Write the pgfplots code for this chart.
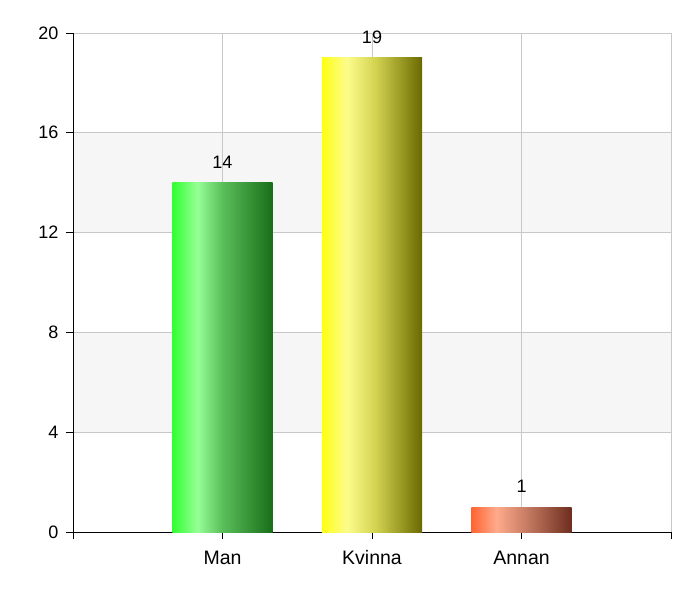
\documentclass[border=0pt]{standalone}
\usepackage{fontspec}
\setmainfont{Liberation Sans}
\usepackage{pgfplots}
\pgfplotsset{compat=1.18}
\definecolor{gridc}{HTML}{C8C8C8}
\definecolor{bandc}{HTML}{F6F6F6}
\pgfdeclarehorizontalshading{greenbar}{100bp}{color(0bp)=(green!80!white); color(25bp)=(rgb,255:red,50;green,255;blue,50); color(37.5bp)=(rgb,255:red,150;green,255;blue,150); color(50bp)=(rgb,255:red,90;green,190;blue,90); color(75bp)=(rgb,255:red,25;green,110;blue,25); color(100bp)=(rgb,255:red,25;green,110;blue,25)}
\pgfdeclarehorizontalshading{yellowbar}{100bp}{color(0bp)=(yellow); color(25bp)=(rgb,255:red,255;green,255;blue,20); color(37.5bp)=(rgb,255:red,252;green,252;blue,140); color(52bp)=(rgb,255:red,210;green,210;blue,80); color(75bp)=(rgb,255:red,105;green,105;blue,0); color(100bp)=(rgb,255:red,105;green,105;blue,0)}
\pgfdeclarehorizontalshading{orangebar}{100bp}{color(0bp)=(orange); color(25bp)=(rgb,255:red,255;green,100;blue,50); color(37.5bp)=(rgb,255:red,255;green,170;blue,140); color(52bp)=(rgb,255:red,200;green,125;blue,100); color(75bp)=(rgb,255:red,110;green,45;blue,30); color(100bp)=(rgb,255:red,110;green,45;blue,30)}
\begin{document}
\begin{tikzpicture}
\begin{axis}[
  name=ax,
  set layers=standard,
  scale only axis,
  width=598pt, height=499pt,
  xmin=0, xmax=4, ymin=0, ymax=20,
  axis lines*=left,
  axis line style={black, line width=0.8pt},
  xtick={0,1,2,3,4},
  xticklabels={,Man,Kvinna,Annan,},
  ytick={0,4,8,12,16,20},
  grid=major,
  grid style={gridc, line width=0.6pt},
  tick align=outside,
  major tick length=7pt,
  tick style={black, line width=0.8pt},
  /pgf/number format/assume math mode=true,
  yticklabel style={font=\fontsize{18}{21}\selectfont, xshift=-4pt},
  xticklabel style={font=\fontsize{19.5}{22}\selectfont, yshift=-8pt, text height=14pt, text depth=0pt},
  clip=false,
]
\addplot[fill=bandc, draw=none, on layer=axis background, forget plot] coordinates {(0,4) (4,4) (4,8) (0,8) (0,4)};
\addplot[fill=bandc, draw=none, on layer=axis background, forget plot] coordinates {(0,12) (4,12) (4,16) (0,16) (0,12)};
\addplot[ybar, bar width=0.67, bar shift=0pt, draw=none, shading=greenbar,
  nodes near coords, every node near coord/.append style={font=\fontsize{18}{21}\selectfont, black, yshift=11pt}] coordinates {(1,14)};
\addplot[ybar, bar width=0.67, bar shift=0pt, draw=none, shading=yellowbar,
  nodes near coords, every node near coord/.append style={font=\fontsize{18}{21}\selectfont, black, yshift=11pt}] coordinates {(2,19)};
\addplot[ybar, bar width=0.67, bar shift=0pt, draw=none, shading=orangebar,
  nodes near coords, every node near coord/.append style={font=\fontsize{18}{21}\selectfont, black, yshift=11pt}] coordinates {(3,1)};
\end{axis}
\path ([shift={(-73pt,-68pt)}]ax.south west) rectangle ([shift={(29pt,33pt)}]ax.north east);
\end{tikzpicture}
\end{document}
